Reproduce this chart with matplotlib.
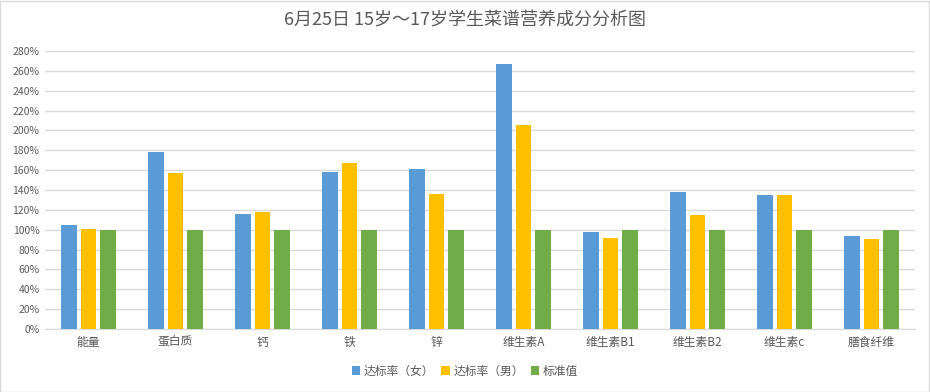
import numpy as np
import matplotlib
matplotlib.use("Agg")
from matplotlib import pyplot as plt
from matplotlib.ticker import FuncFormatter, MultipleLocator

plt.rcParams['font.family'] = ['Noto Sans CJK SC', 'DejaVu Sans']

categories = ["能量", "蛋白质", "钙", "铁", "锌", "维生素A", "维生素B1", "维生素B2", "维生素c", "膳食纤维"]
female = [105, 178, 116, 158, 161, 267, 98, 138, 135, 94]
male = [101, 157, 118, 167, 136, 205, 92, 115, 135, 91]
standard = [100, 100, 100, 100, 100, 100, 100, 100, 100, 100]
series_names = ["达标率（女）", "达标率（男）", "标准值"]
colors = ["#5b9bd5", "#ffc000", "#70ad47"]

text_color = "#595959"
grid_color = "#d9d9d9"

fig = plt.figure(figsize=(9.3, 3.92), dpi=100)
ax = fig.add_axes([45 / 930, 1 - 329 / 392, 870 / 930, 278 / 392])

x = np.arange(len(categories))
step = 0.224
width = 0.178
for i, (vals, name, c) in enumerate(zip([female, male, standard], series_names, colors)):
    ax.bar(x + (i - 1) * step, vals, width=width, color=c, label=name, zorder=3)

ax.set_xlim(-0.5, len(categories) - 0.5)
ax.set_ylim(0, 280)
ax.yaxis.set_major_locator(MultipleLocator(20))
ax.yaxis.set_major_formatter(FuncFormatter(lambda v, p: f"{int(v)}%"))
ax.grid(axis='y', color=grid_color, linewidth=1, zorder=0)
ax.set_xticks(x)
ax.set_xticklabels(categories)
ax.tick_params(axis='both', length=0, colors=text_color)
ax.tick_params(axis='y', labelsize=7.5, pad=4)
ax.tick_params(axis='x', labelsize=8.5, pad=5)
for s in ["top", "right", "left"]:
    ax.spines[s].set_visible(False)
ax.spines["bottom"].set_color(grid_color)

fig.suptitle("6月25日 15岁～17岁学生菜谱营养成分分析图", y=1 - 21 / 392, va='center',
             fontsize=13, color=text_color)

fig.legend(loc='center', bbox_to_anchor=(0.5, 1 - 371 / 392), ncol=3, frameon=False,
           fontsize=8.5, handlelength=0.7, handleheight=0.7, handletextpad=0.3,
           columnspacing=0.6, labelcolor=text_color)

fig.patches.append(plt.Rectangle((0.0005, 0.001), 0.998, 0.997, transform=fig.transFigure,
                                 fill=False, edgecolor=grid_color, linewidth=1))

fig.savefig("out.png", dpi=100)
